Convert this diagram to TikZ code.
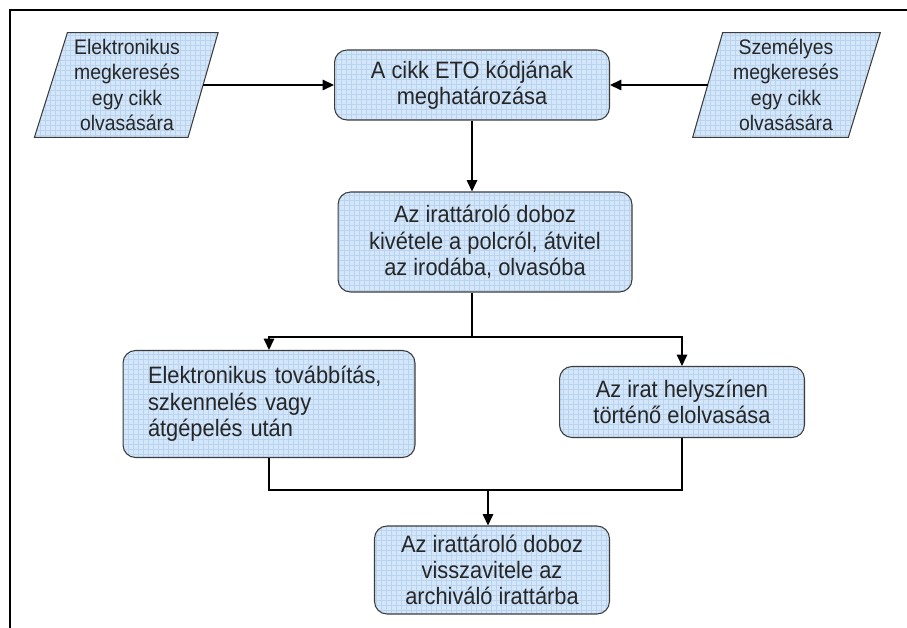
\documentclass[tikz,border=0pt]{standalone}
\usepackage{fontspec}
\setmainfont{Liberation Sans}[FakeStretch=0.92]
\usepackage{tikz}
\usetikzlibrary{arrows.meta, backgrounds}

\definecolor{boxfill}{RGB}{212,230,250}
\definecolor{gridblue}{RGB}{186,212,240}
\definecolor{edge}{RGB}{60,60,60}

\tikzset{
    gridded/.style={path picture={
        \fill[boxfill] (path picture bounding box.south west) rectangle (path picture bounding box.north east);
        \draw[gridblue, line width=0.2pt, step=1mm] (path picture bounding box.south west) grid (path picture bounding box.north east);
    }},
    proc/.style={gridded, draw=edge, line width=0.6pt, rounded corners=0.25cm, align=center,
        font=\fontsize{13.5}{15}\selectfont, text=black!85},
    inp/.style={align=center, font=\fontsize{12}{14.5}\selectfont, text=black!85, inner sep=0pt},
    para/.style={gridded, draw=edge, line width=0.6pt},
    arr/.style={-{Triangle[length=6.5pt,width=6pt]}, line width=0.8pt},
    wire/.style={line width=0.8pt}
}

\begin{document}
\begin{tikzpicture}[x=0.02cm, y=-0.02cm]
    \useasboundingbox (0,0) rectangle (907,628);
    \draw [line width=1.5pt](10,628)--(10,10)--(907,10);
    % input shapes
    \node[inp, minimum width=3.03cm, minimum height=2.08cm] (elek) at (127,85) {Elektronikus\\megkeresés\\egy cikk\\olvasására};
    \node[inp, minimum width=3.12cm, minimum height=2.08cm] (szem) at (786,85) {Személyes\\megkeresés\\egy cikk\\olvasására};
    \begin{scope}[on background layer]
    \draw[para] ([xshift=0.33cm]elek.north west) -- ([xshift=0.30cm]elek.north east)
        -- ([xshift=-0.30cm]elek.south east) -- ([xshift=-0.33cm]elek.south west) -- cycle;
    \draw[para] ([xshift=0.30cm]szem.north west) -- ([xshift=0.32cm]szem.north east)
        -- ([xshift=-0.32cm]szem.south east) -- ([xshift=-0.30cm]szem.south west) -- cycle;
    \end{scope}
    % process boxes
    \node[proc, minimum width=5.5cm, minimum height=1.4cm] (eto) at (472,85) {A cikk ETO kódjának\\meghatározása};
    \node[proc, minimum width=5.88cm, minimum height=2cm] (kivet) at (485,242) {Az irattároló doboz\\kivétele a polcról, átvitel\\az irodába, olvasóba};
    \node[proc, minimum width=5.84cm, minimum height=2.14cm, align=left, text width=4.84cm, inner xsep=0.5cm] (tovabb) at (269,404) {Elektronikus továbbítás,\\szkennelés vagy\\átgépelés után};
    \node[proc, minimum width=4.9cm, minimum height=1.42cm] (helyben) at (682,402) {Az irat helyszínen\\történő elolvasása};
    \node[proc, minimum width=4.7cm, minimum height=1.76cm] (vissza) at (492,570) {Az irattároló doboz\\visszavitele az\\archiváló irattárba};
    \coordinate (split) at (472,337);
    \coordinate (merge) at (488,490);
    % connectors
    \draw [arr](elek.east)--(eto.west);
    \draw [arr](szem.west)--(eto.east);
    \draw [arr](eto.south)--(eto.south |- kivet.north);
    \draw [wire](split |- kivet.south)--(split);
    \draw [arr](split)-|(tovabb.north);
    \draw [arr](split)-|(helyben.north);
    \draw [wire](tovabb.south)|-(merge)-|(helyben.south);
    \draw [arr](merge)--(merge |- vissza.north);
\end{tikzpicture}
\end{document}
